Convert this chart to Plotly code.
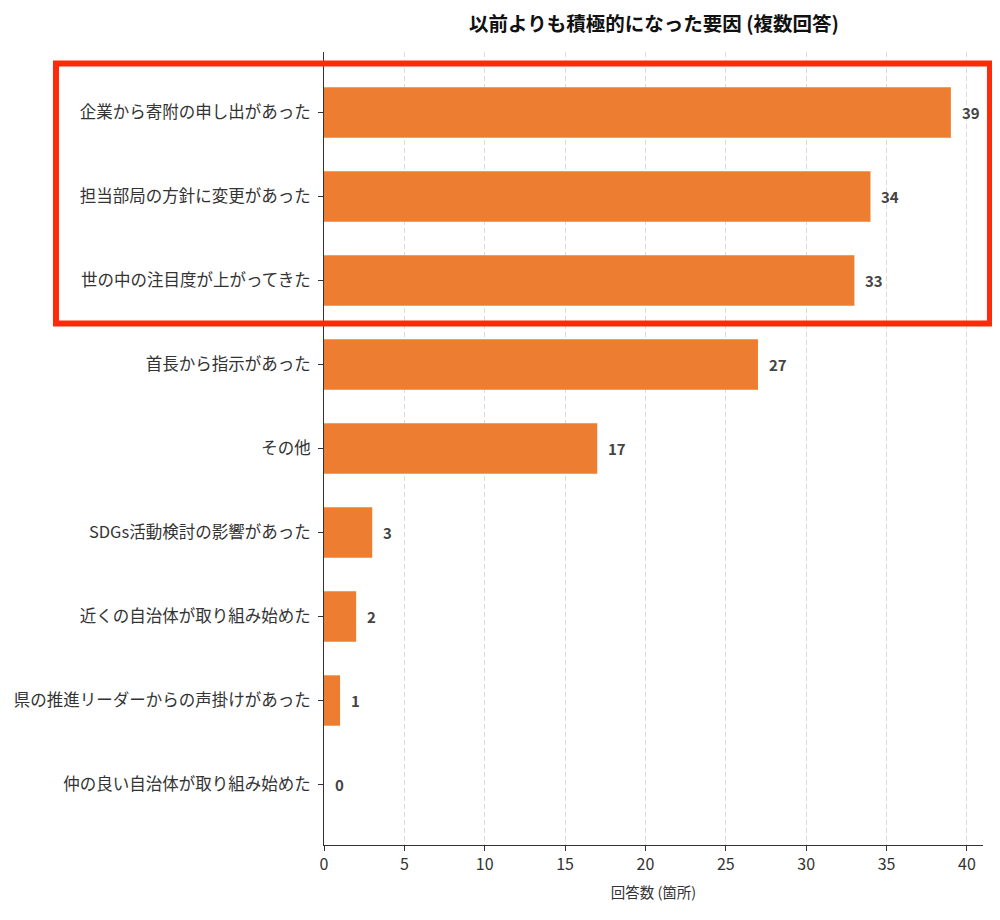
import plotly.graph_objects as go

# 以前よりも積極的になった要因 (複数回答)
factors = [
    "企業から寄附の申し出があった",
    "担当部局の方針に変更があった",
    "世の中の注目度が上がってきた",
    "首長から指示があった",
    "その他",
    "SDGs活動検討の影響があった",
    "近くの自治体が取り組み始めた",
    "県の推進リーダーからの声掛けがあった",
    "仲の良い自治体が取り組み始めた",
]
counts = [39, 34, 33, 27, 17, 3, 2, 1, 0]
x_ticks = [0, 5, 10, 15, 20, 25, 30, 35, 40]

font_family = "Noto Sans CJK JP"

fig = go.Figure(go.Bar(
    x=counts,
    y=factors,
    orientation="h",
    width=0.6,
    marker=dict(color="#ED7D31", line=dict(width=0)),
    hoverinfo="x+y",
))

# value labels next to each bar
for c, f in zip(counts, factors):
    fig.add_annotation(
        x=c, y=f, text=f"<b>{c}</b>", showarrow=False,
        xanchor="left", xshift=9,
        font=dict(family=font_family, size=15, color="#444444"),
    )

# highlight box around the top three
fig.add_shape(
    type="rect", xref="paper", yref="y",
    x0=-0.4067, x1=1.0106, y0=-0.583, y1=2.512,
    line=dict(color="#FF2A0A", width=6),
    fillcolor="rgba(0,0,0,0)",
)

# the page body adds an 8px offset, so margins are shifted up/left by 8
fig.update_layout(
    width=1000, height=920,
    paper_bgcolor="white", plot_bgcolor="white",
    margin=dict(l=316, r=25, t=44, b=83, autoexpand=False),
    font=dict(family=font_family, size=16, color="#333333"),
    title=dict(
        text="<b>以前よりも積極的になった要因 (複数回答)</b>",
        x=0.646, xanchor="center", y=0.982, yanchor="middle",
        font=dict(family=font_family, size=19.5, color="#111111"),
    ),
    showlegend=False,
)

fig.update_xaxes(
    range=[0, 41], tickvals=x_ticks,
    showgrid=True, gridcolor="#DADADA", griddash="5px,3px", gridwidth=1,
    showline=True, linecolor="#333333", linewidth=1,
    ticks="outside", ticklen=5, tickcolor="#333333",
    zeroline=False, automargin=False,
    title=dict(text="回答数 (箇所)", font=dict(size=14.5), standoff=13),
    tickfont=dict(size=16),
)
fig.update_yaxes(
    autorange=False, range=[8.72, -0.72],
    showgrid=False, automargin=False,
    showline=True, linecolor="#333333", linewidth=1,
    ticks="outside", ticklen=5, tickcolor="#333333",
    ticklabelstandoff=4,
    tickfont=dict(size=16.5),
)

fig.write_html("out.html")
